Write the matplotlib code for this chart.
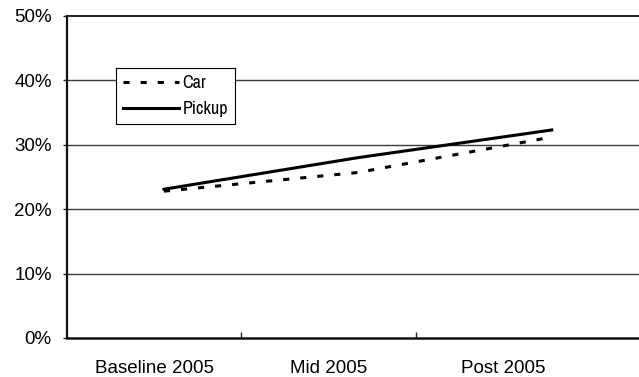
import matplotlib
matplotlib.use("Agg")
import matplotlib.pyplot as plt
from matplotlib import font_manager
from matplotlib.ticker import PercentFormatter, FixedLocator, NullLocator

plt.rcParams["font.family"] = ["Liberation Sans", "DejaVu Sans"]

categories = ["Baseline 2005", "Mid 2005", "Post 2005"]
car = [0.228, 0.257, 0.312]
pickup = [0.231, 0.280, 0.323]
y_ticks = [0.0, 0.1, 0.2, 0.3, 0.4, 0.5]

W, H = 639, 377
fig = plt.figure(figsize=(W / 100, H / 100), dpi=100)

left, right, bottom, top = 67, 639, 338, 16
pos = [left / W, 1 - bottom / H, (right - left) / W, (bottom - top) / H]

# axis carrying the category labels, ticks and gridlines
ax = fig.add_axes(pos)
ax.set_xlim(-0.5, 2.78)
ax.set_ylim(0, 0.5)
ax.set_xticks(range(len(categories)))
ax.set_xticklabels(categories, fontsize=13.5)
ax.xaxis.set_minor_locator(FixedLocator([0.5, 1.5]))
ax.tick_params(axis="x", which="major", length=0, pad=15.5)
ax.tick_params(axis="x", which="minor", direction="in", length=4.5, width=1, color="#222222")
ax.set_yticks(y_ticks)
ax.yaxis.set_major_formatter(PercentFormatter(1.0, decimals=0))
ax.tick_params(axis="y", direction="out", length=3, width=1, pad=8, labelsize=13.5, color="#222222")
for v in y_ticks[1:-1]:
    ax.axhline(v, color="#3a3a3a", lw=1.0, zorder=1)
ax.spines["right"].set_visible(False)
ax.spines["top"].set_linewidth(1.4)
ax.spines["top"].set_color("#222222")
ax.spines["left"].set_linewidth(1.6)
ax.spines["bottom"].set_linewidth(1.8)
for s in ("left", "bottom"):
    ax.spines[s].set_color("#111111")

# axis carrying the two series
axd = ax.twiny()
axd.set_xlim(-0.5, 2.45)
axd.set_ylim(0, 0.5)
axd.xaxis.set_major_locator(NullLocator())
for s in axd.spines.values():
    s.set_visible(False)
x = range(len(categories))
axd.plot(x, car, color="black", lw=2.2, ls=(0, (2.0, 3.6)), label="Car", zorder=3)
axd.plot(x, pickup, color="black", lw=2.2, ls="-", label="Pickup", zorder=3)

narrow = [f.name for f in font_manager.fontManager.ttflist if "Narrow" in f.name]
legend_family = [narrow[0]] if narrow else ["Liberation Sans"]

leg = axd.legend(loc="upper left", bbox_to_anchor=((115.7 - left) / (right - left), (bottom - 68) / (bottom - top)),
                 prop={"family": legend_family, "size": 13, "stretch": "condensed"},
                 frameon=True, fancybox=False, framealpha=1, edgecolor="black",
                 handlelength=3.1, handletextpad=0.2, borderpad=0.4, labelspacing=0.55,
                 borderaxespad=0)
leg.get_frame().set_linewidth(0.8)

fig.savefig("out.png", dpi=100)
